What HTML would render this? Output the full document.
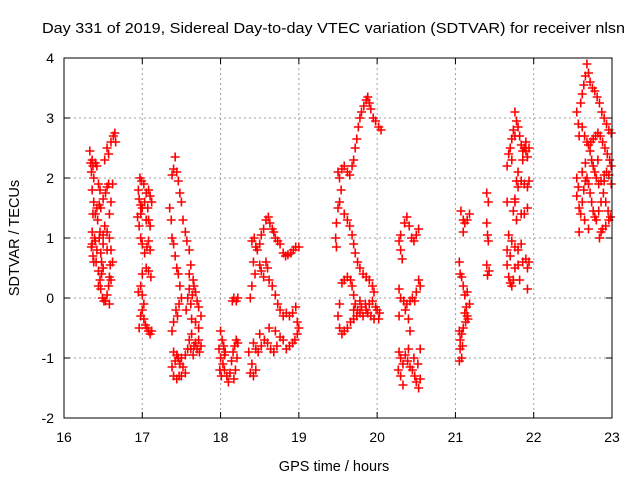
<!DOCTYPE html>
<html><head><meta charset="utf-8"><style>
body{margin:0;background:#fff;}
svg{display:block;font-family:"Liberation Sans",sans-serif;}
</style></head><body>
<svg id="chart" width="640" height="480">
<text x="42" y="33" font-size="15" textLength="583" lengthAdjust="spacingAndGlyphs" fill="#000">Day 331 of 2019, Sidereal Day-to-day VTEC variation (SDTVAR) for receiver nlsn</text>
<text x="334" y="471" font-size="14.5" text-anchor="middle">GPS time / hours</text>
<text transform="translate(19,238) rotate(-90)" font-size="14.5" text-anchor="middle">SDTVAR / TECUs</text>
<g id="grid"></g><g id="ticks"></g><g id="marks"></g>
<rect x="64" y="58" width="548" height="360" fill="none" stroke="#000" stroke-width="1"/>
</svg>
<script>
const xTicks=[16,17,18,19,20,21,22,23];
const yTicks=[-2,-1,0,1,2,3,4];
const points=[
[16.33,2.45],[16.34,2.25],[16.35,2.1],[16.36,2.3],[16.37,2.2],[16.38,2.0],[16.36,1.8],[16.38,1.6],[16.37,1.4],[16.36,1.1],[16.35,0.85],[16.37,0.7],[16.38,0.6],[16.36,0.9],[16.39,1.0],[16.40,0.95],[16.42,0.8],[16.41,0.6],[16.44,0.45],[16.46,0.3],[16.47,0.15],[16.49,0.0],[16.51,-0.05],[16.53,-0.05],[16.55,0.05],[16.57,0.2],[16.58,0.35],[16.59,0.55],[16.60,0.8],[16.58,1.0],[16.55,1.1],[16.52,1.2],[16.50,0.9],[16.47,0.75],[16.45,1.0],[16.43,1.3],[16.45,1.55],[16.47,1.5],[16.50,1.65],[16.53,1.75],[16.55,1.85],[16.57,1.9],[16.60,1.6],[16.58,1.4],[16.62,1.9],[16.52,2.3],[16.55,2.5],[16.57,2.4],[16.60,2.6],[16.63,2.7],[16.65,2.75],[16.66,2.6],[16.40,2.25],[16.42,2.2],[16.44,1.9],[16.46,1.8],[16.48,0.6],[16.50,0.5],[16.62,0.6],[16.60,0.3],[16.58,-0.1],[16.40,1.4],[16.42,1.5],[16.46,1.1],[16.50,1.05],[16.55,0.8],[16.48,0.4],[16.44,0.2],
[16.97,2.0],[16.99,1.95],[17.02,1.9],[16.95,1.8],[16.96,1.65],[16.98,1.55],[17.0,1.5],[17.03,1.6],[17.05,1.75],[17.08,1.8],[17.10,1.7],[17.07,1.5],[17.12,1.6],[17.05,1.3],[17.08,1.3],[17.10,1.2],[16.96,1.2],[16.98,1.0],[17.0,0.9],[17.03,0.75],[17.06,0.85],[17.08,0.95],[17.1,0.8],[17.05,0.5],[17.08,0.45],[17.11,0.35],[17.0,0.4],[16.98,0.2],[16.95,0.1],[17.0,0.05],[17.02,-0.1],[17.0,-0.2],[16.98,-0.3],[17.02,-0.35],[16.96,-0.5],[17.04,-0.45],[17.06,-0.5],[17.1,-0.6],[17.12,-0.55],[17.08,-0.55],[16.94,1.35],[16.98,1.4],
[17.42,2.35],[17.40,2.15],[17.44,2.1],[17.38,2.05],[17.46,1.95],[17.48,1.75],[17.50,1.6],[17.52,1.3],[17.55,1.1],[17.57,0.95],[17.60,0.8],[17.62,0.55],[17.60,0.4],[17.65,0.3],[17.68,0.1],[17.70,-0.05],[17.72,-0.15],[17.75,-0.3],[17.66,0.2],[17.64,0.05],[17.62,-0.1],[17.60,0.15],[17.58,0.0],[17.56,-0.2],[17.63,-0.35],[17.68,-0.4],[17.72,-0.5],[17.35,1.5],[17.37,1.3],[17.38,1.0],[17.40,0.9],[17.42,0.7],[17.44,0.5],[17.46,0.4],[17.48,0.2],[17.5,0.0],[17.47,-0.1],[17.45,-0.3],[17.43,-0.2],[17.40,-0.4],[17.38,-0.55],[17.40,-0.9],[17.38,-1.15],[17.40,-1.3],[17.42,-1.05],[17.44,-0.95],[17.46,-1.0],[17.48,-1.1],[17.50,-1.0],[17.47,-1.3],[17.44,-1.35],[17.52,-1.15],[17.55,-0.95],[17.58,-0.85],[17.60,-0.7],[17.63,-0.6],[17.66,-0.8],[17.68,-0.75],[17.70,-0.85],[17.72,-0.7],[17.75,-0.8],[17.73,-0.9],[17.65,-0.95],[17.62,-0.85],[17.55,-1.25],[17.5,-1.3],
[18.17,0.0],[18.20,-0.05],[18.15,-0.05],[18.22,0.0],[18.0,-0.55],[18.02,-0.7],[18.04,-0.8],[18.06,-0.9],[17.98,-0.85],[18.00,-1.0],[18.03,-1.1],[18.05,-1.2],[18.08,-1.3],[18.10,-1.4],[18.12,-1.25],[18.14,-1.05],[18.16,-0.9],[18.18,-0.8],[18.20,-0.7],[18.21,-1.0],[18.19,-1.2],[18.17,-1.35],[17.99,-1.2],[18.01,-1.3],[18.22,-0.75],[18.05,-0.95],
[18.40,0.95],[18.43,1.0],[18.45,0.85],[18.47,0.8],[18.50,0.9],[18.52,1.05],[18.55,1.15],[18.58,1.3],[18.61,1.35],[18.63,1.25],[18.66,1.15],[18.68,1.1],[18.70,1.0],[18.73,0.95],[18.76,0.9],[18.80,0.75],[18.83,0.7],[18.86,0.72],[18.90,0.75],[18.93,0.8],[18.96,0.85],[19.0,0.85],[18.42,0.6],[18.44,0.4],[18.40,0.2],[18.38,0.0],[18.5,0.55],[18.52,0.45],[18.55,0.35],[18.58,0.6],[18.60,0.5],[18.62,0.3],[18.66,0.2],[18.70,0.05],[18.73,-0.1],[18.76,-0.2],[18.80,-0.3],[18.84,-0.25],[18.88,-0.3],[18.92,-0.25],[18.96,-0.15],[18.98,-0.4],[19.0,-0.5],[18.98,-0.6],[18.95,-0.7],[18.92,-0.75],[18.88,-0.8],[18.84,-0.85],[18.80,-0.7],[18.76,-0.65],[18.72,-0.8],[18.68,-0.9],[18.64,-0.85],[18.60,-0.75],[18.56,-0.7],[18.52,-0.8],[18.48,-0.9],[18.45,-0.85],[18.42,-0.75],[18.40,-1.1],[18.38,-1.25],[18.42,-1.3],[18.45,-1.2],[18.50,-0.6],[18.62,-0.5],[18.70,-0.55],[18.36,-0.9],
[19.50,2.1],[19.52,2.0],[19.55,2.15],[19.58,2.2],[19.62,2.1],[19.65,2.05],[19.68,2.2],[19.70,2.3],[19.72,2.5],[19.74,2.65],[19.76,2.85],[19.78,3.0],[19.80,3.1],[19.83,3.2],[19.86,3.3],[19.88,3.35],[19.90,3.25],[19.92,3.15],[19.95,3.0],[19.98,2.95],[20.02,2.85],[20.05,2.8],[19.54,1.8],[19.52,1.6],[19.50,1.5],[19.48,1.25],[19.47,1.0],[19.48,0.85],[19.58,1.4],[19.62,1.3],[19.65,1.2],[19.68,1.05],[19.70,0.9],[19.72,0.75],[19.75,0.6],[19.78,0.5],[19.82,0.4],[19.86,0.35],[19.90,0.3],[19.94,0.2],[19.96,0.1],[19.55,0.25],[19.58,0.3],[19.62,0.35],[19.66,0.3],[19.68,0.2],[19.70,0.05],[19.72,-0.1],[19.75,-0.2],[19.78,-0.25],[19.82,-0.3],[19.86,-0.2],[19.90,-0.1],[19.94,-0.05],[19.98,-0.15],[20.02,-0.35],[20.03,-0.25],[19.52,-0.1],[19.50,-0.3],[19.52,-0.5],[19.55,-0.6],[19.58,-0.55],[19.62,-0.5],[19.66,-0.4],[19.70,-0.35],[19.74,-0.3],[19.80,-0.15],[19.85,-0.1],[19.88,-0.25],[19.92,-0.3],[19.96,-0.35],[20.0,-0.2],[19.78,-0.05],[19.70,-0.2],
[20.35,1.25],[20.38,1.35],[20.41,1.2],[20.44,1.0],[20.47,0.95],[20.50,1.05],[20.53,1.15],[20.30,1.05],[20.28,0.95],[20.30,0.8],[20.32,0.65],[20.28,0.15],[20.30,0.0],[20.34,-0.05],[20.38,-0.1],[20.42,-0.05],[20.45,0.0],[20.48,-0.05],[20.50,0.1],[20.53,0.3],[20.55,0.2],[20.36,-0.2],[20.40,-0.35],[20.28,-0.3],[20.42,-0.55],[20.28,-0.9],[20.30,-1.0],[20.33,-1.1],[20.36,-0.95],[20.39,-1.05],[20.42,-1.15],[20.45,-1.2],[20.48,-1.3],[20.50,-1.4],[20.53,-1.5],[20.55,-1.35],[20.52,-1.1],[20.55,-0.85],[20.30,-1.3],[20.33,-1.45],[20.40,-0.85],[20.47,-1.0],[20.27,-1.2],
[21.07,1.45],[21.10,1.3],[21.12,1.25],[21.15,1.3],[21.18,1.4],[21.10,1.1],[21.05,0.6],[21.06,0.4],[21.08,0.35],[21.10,0.2],[21.12,0.05],[21.14,-0.15],[21.15,-0.3],[21.13,-0.4],[21.12,-0.25],[21.16,-0.35],[21.10,-0.5],[21.08,-0.6],[21.06,-0.7],[21.05,-0.55],[21.06,-0.85],[21.08,-1.0],[21.05,-1.05],[21.09,-0.8],[21.18,-0.1],[21.15,0.1],
[21.40,1.75],[21.42,1.6],[21.40,1.25],[21.41,1.05],[21.42,0.95],[21.40,0.55],[21.43,0.45],[21.41,0.38],
[21.76,3.1],[21.78,2.95],[21.74,2.8],[21.72,2.65],[21.70,2.5],[21.68,2.4],[21.66,2.2],[21.72,2.3],[21.76,2.7],[21.80,2.85],[21.82,2.7],[21.84,2.55],[21.86,2.45],[21.88,2.5],[21.90,2.45],[21.92,2.35],[21.94,2.5],[21.90,2.6],[21.86,2.3],[21.80,2.1],[21.78,1.95],[21.80,1.85],[21.84,1.95],[21.88,1.9],[21.92,1.85],[21.94,1.95],[21.76,1.65],[21.74,1.45],[21.78,1.3],[21.84,1.4],[21.88,1.4],[21.92,1.5],[21.66,1.6],[21.68,1.05],[21.72,0.95],[21.76,0.85],[21.80,0.8],[21.84,0.9],[21.86,0.6],[21.90,0.65],[21.92,0.5],[21.94,0.6],[21.80,0.55],[21.76,0.5],[21.70,0.7],[21.66,0.8],[21.68,0.35],[21.70,0.25],[21.72,0.2],[21.74,0.3],[21.82,0.3],[21.92,0.15],[21.66,0.55],[21.76,1.6],
[22.55,3.1],[22.57,2.9],[22.58,2.7],[22.60,3.25],[22.62,3.4],[22.64,3.55],[22.66,3.7],[22.68,3.9],[22.70,3.75],[22.72,3.6],[22.75,3.5],[22.78,3.45],[22.81,3.35],[22.84,3.25],[22.87,3.1],[22.90,3.0],[22.93,2.9],[22.96,2.8],[22.99,2.75],[22.62,2.85],[22.65,2.7],[22.68,2.6],[22.70,2.55],[22.73,2.6],[22.76,2.65],[22.79,2.7],[22.82,2.75],[22.85,2.7],[22.88,2.6],[22.91,2.5],[22.94,2.4],[22.97,2.3],[22.99,2.2],[22.72,2.45],[22.74,2.3],[22.76,2.2],[22.78,2.1],[22.80,2.0],[22.83,1.9],[22.86,1.95],[22.90,2.05],[22.93,2.1],[22.96,2.05],[22.99,1.9],[22.55,2.0],[22.57,1.85],[22.55,1.7],[22.58,1.5],[22.60,1.4],[22.62,1.6],[22.64,1.8],[22.66,1.95],[22.68,2.0],[22.70,1.9],[22.72,1.75],[22.74,1.6],[22.76,1.45],[22.78,1.35],[22.80,1.3],[22.83,1.45],[22.86,1.6],[22.89,1.75],[22.92,1.6],[22.95,1.45],[22.98,1.35],[22.86,1.1],[22.84,1.0],[22.88,1.15],[22.92,1.2],[22.96,1.3],[22.65,1.3],[22.70,1.15],[22.58,1.1],[22.62,2.1],[22.66,2.25],[22.82,2.3],[22.9,1.95]
];
const NS="http://www.w3.org/2000/svg";
const X0=64,X1=612,Y0=418,Y1=58;
function sx(h){return X0+(h-16)/(23-16)*(X1-X0);}
function sy(v){return Y0-(v+2)/6*(Y0-Y1);}
function mk(tag,attrs,parent){const e=document.createElementNS(NS,tag);for(const k in attrs)e.setAttribute(k,attrs[k]);parent.appendChild(e);return e;}
const grid=document.getElementById('grid'),ticks=document.getElementById('ticks'),marks=document.getElementById('marks');
xTicks.forEach(t=>{
  const x=sx(t);
  if(t>16&&t<23){const g=mk('line',{x1:x,x2:x,y1:Y1,y2:Y0,stroke:'#a0a0a0','stroke-dasharray':'2,3'},grid);
  
  }
  mk('line',{x1:x,x2:x,y1:Y0,y2:Y0-6,stroke:'#000'},ticks);
  mk('line',{x1:x,x2:x,y1:Y1,y2:Y1+6,stroke:'#000'},ticks);
  const l=mk('text',{x:x,y:Y0+24,'font-size':'14','text-anchor':'middle'},ticks);l.textContent=t;
  
  
});
yTicks.forEach(t=>{
  const y=sy(t);
  if(t>-2&&t<4){const g=mk('line',{x1:X0,x2:X1,y1:y,y2:y,stroke:'#a0a0a0','stroke-dasharray':'2,3'},grid);
  
  }
  mk('line',{x1:X0,x2:X0+6,y1:y,y2:y,stroke:'#000'},ticks);
  mk('line',{x1:X1,x2:X1-6,y1:y,y2:y,stroke:'#000'},ticks);
  const l=mk('text',{x:X0-10,y:y+5,'font-size':'14','text-anchor':'end'},ticks);l.textContent=t;
  
  
});
points.forEach(p=>{
  const x=sx(p[0]),y=sy(p[1]);
  const e=mk('path',{d:`M${x-4.5},${y}H${x+4.5}M${x},${y-4.5}V${y+4.5}`,stroke:'#ff0000','stroke-width':'1.6',fill:'none'},marks);
  
  
});
</script>
</body></html>
